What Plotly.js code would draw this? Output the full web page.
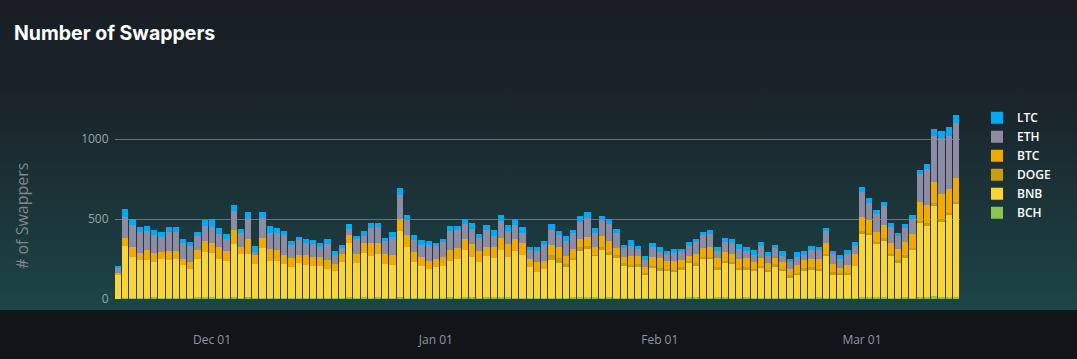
<!DOCTYPE html>
<html>
<head>
<meta charset="utf-8">
<script src="https://cdn.plot.ly/plotly-3.0.1.min.js"></script>
<style>
  html, body { margin: 0; padding: 0; background: #11151a; }
  #chart {
    width: 1077px; height: 359px;
    background: linear-gradient(to bottom, #191e25 0px, #1a2128 80px, #1c4547 310px, #11151a 310px, #11151a 359px);
  }
</style>
</head>
<body>
<div id="chart"></div>
<script>
// First day of the daily series and number of days
const startDate = '2022-11-18';
const dayCount = 117;

const BCH = [3,6,5,5,8,10,9,8,8,5,6,10,15,10,8,9,12,6,10,5,8,7,6,8,5,9,7,5,6,8,5,4,12,9,10,8,12,6,5,10,8,6,7,5,6,8,10,9,12,10,8,15,10,14,10,8,9,6,5,7,8,6,9,10,12,10,15,9,10,8,6,5,4,6,5,7,6,5,8,10,12,8,9,10,12,9,7,10,8,6,5,7,6,5,4,8,6,10,9,6,8,7,5,10,14,10,12,9,8,10,8,12,10,16,14,13,14];
const BNB = [147,327,260,241,238,223,243,238,244,210,184,242,281,280,244,231,334,277,273,216,313,233,234,213,197,218,208,203,202,182,172,229,340,218,280,263,271,215,210,417,317,227,201,182,194,200,227,241,294,252,223,254,246,292,252,292,266,194,164,180,236,219,197,234,288,302,254,303,271,248,206,195,202,150,189,174,169,164,179,215,200,242,241,177,213,210,180,177,167,188,164,199,169,132,146,173,181,165,260,150,142,143,201,402,386,334,350,260,223,252,304,463,446,565,473,512,580];
const DOGE = [0,0,0,0,0,0,0,0,0,0,0,0,0,0,0,0,0,0,0,0,0,0,0,0,0,0,0,0,0,0,0,0,0,0,0,0,0,0,0,0,0,0,0,0,0,0,0,0,0,0,0,0,0,0,0,0,0,0,0,0,31,31,12,12,25,19,6,12,12,19,12,12,12,6,12,12,12,12,12,12,12,12,12,12,12,12,6,12,12,12,12,12,12,12,12,12,12,12,12,12,12,12,0,12,12,12,19,12,12,12,6,12,19,19,12,12,12];
const BTC = [12,50,60,42,60,54,44,56,50,35,44,56,67,60,73,62,87,44,92,56,62,73,69,56,56,50,62,56,56,56,44,50,48,56,60,79,67,62,62,73,75,62,54,50,50,54,69,69,69,81,69,56,69,75,81,75,75,50,62,50,62,69,50,56,50,56,50,69,69,44,37,56,50,37,56,62,50,56,44,31,56,56,62,56,56,50,56,56,44,50,44,37,44,37,50,50,50,62,69,50,31,50,75,87,81,62,81,69,69,81,87,119,112,131,156,150,150];
const ETH = [31,129,137,131,119,112,92,119,119,100,100,87,96,100,83,73,117,85,133,19,125,100,104,123,79,94,73,81,60,100,56,37,37,92,46,96,100,79,110,150,94,73,75,100,83,96,119,112,94,94,83,106,69,106,81,87,62,62,69,100,94,75,94,100,106,119,87,100,106,94,62,62,44,44,62,37,46,50,50,62,75,81,81,44,62,69,62,44,44,75,44,62,37,50,50,31,56,62,75,62,56,69,50,156,106,112,119,100,81,87,94,175,225,287,350,331,344];
const LTC = [15,50,37,31,31,31,31,29,29,25,25,23,37,50,37,31,37,25,35,35,35,44,31,25,25,19,25,23,27,31,25,17,33,19,29,31,27,19,31,44,31,31,31,25,17,17,31,25,31,37,23,31,37,37,37,37,37,12,25,25,37,25,31,19,37,37,31,25,31,25,12,37,19,25,25,31,19,25,19,25,19,19,25,25,25,25,31,25,31,25,25,19,31,12,31,25,25,12,19,19,25,25,25,31,31,25,25,25,19,25,25,25,31,44,44,56,50];

const seriesNames = ['BCH', 'BNB', 'DOGE', 'BTC', 'ETH', 'LTC'];
const seriesColors = ['#8dc351', '#fad535', '#c99e08', '#f2a900', '#8e8ca5', '#02a9f4'];
const seriesValues = [BCH, BNB, DOGE, BTC, ETH, LTC];

const dates = [];
{
  const d0 = new Date(startDate + 'T00:00:00Z');
  for (let i = 0; i < dayCount; i++) {
    const d = new Date(d0.getTime() + i * 86400000);
    dates.push(d.toISOString().slice(0, 10));
  }
}

const traces = seriesNames.map((name, k) => ({
  type: 'bar',
  name: name,
  x: dates,
  y: seriesValues[k],
  marker: { color: seriesColors[k], line: { width: 0 } },
  hoverinfo: 'x+y+name'
}));

const layout = {
  width: 1077,
  height: 359,
  paper_bgcolor: 'rgba(0,0,0,0)',
  plot_bgcolor: 'rgba(0,0,0,0)',
  barmode: 'stack',
  bargap: 0.15,
  margin: { l: 115, r: 117, t: 107, b: 60 },
  title: {
    text: 'Number of Swappers',
    x: 14 / 1077, xref: 'container', xanchor: 'left',
    y: 1 - 33 / 359, yref: 'container', yanchor: 'middle',
    font: { family: 'Inter, Roboto, sans-serif', size: 19.5, color: '#ffffff', weight: 700 }
  },
  xaxis: {
    type: 'date',
    range: ['2022-11-17 13:40', '2023-03-14 13:40'],
    tick0: '2022-12-01',
    dtick: 'M1',
    tickformat: '%b %d',
    ticks: 'outside',
    ticklen: 30,
    tickcolor: 'rgba(0,0,0,0)',
    showgrid: false,
    zeroline: false,
    showline: false,
    tickfont: { family: 'Open Sans, sans-serif', size: 12, color: '#8d979e' }
  },
  yaxis: {
    range: [0, 1200],
    tickvals: [0, 500, 1000],
    ticks: 'outside',
    ticklen: 3,
    tickcolor: 'rgba(0,0,0,0)',
    showgrid: true,
    gridcolor: '#67727a',
    gridwidth: 1,
    zeroline: false,
    showline: false,
    tickfont: { family: 'Open Sans, sans-serif', size: 12, color: '#9ba4aa' }
  },
  annotations: [{
    text: '# of Swappers',
    xref: 'paper', yref: 'paper',
    x: (22 - 115) / 845, y: (299 - 216) / 192,
    xanchor: 'center', yanchor: 'middle',
    textangle: -90,
    showarrow: false,
    font: { family: 'Open Sans, sans-serif', size: 16, color: '#7c878e' }
  }],
  legend: {
    x: (977 - 115) / 845, xanchor: 'left',
    y: 1.02, yanchor: 'top',
    traceorder: 'reversed',
    bgcolor: 'rgba(0,0,0,0)',
    font: { family: 'Open Sans, sans-serif', size: 12, color: '#ffffff', weight: 600 }
  },
  showlegend: true
};

Plotly.newPlot('chart', traces, layout, { displayModeBar: false, staticPlot: false });
</script>
</body>
</html>
